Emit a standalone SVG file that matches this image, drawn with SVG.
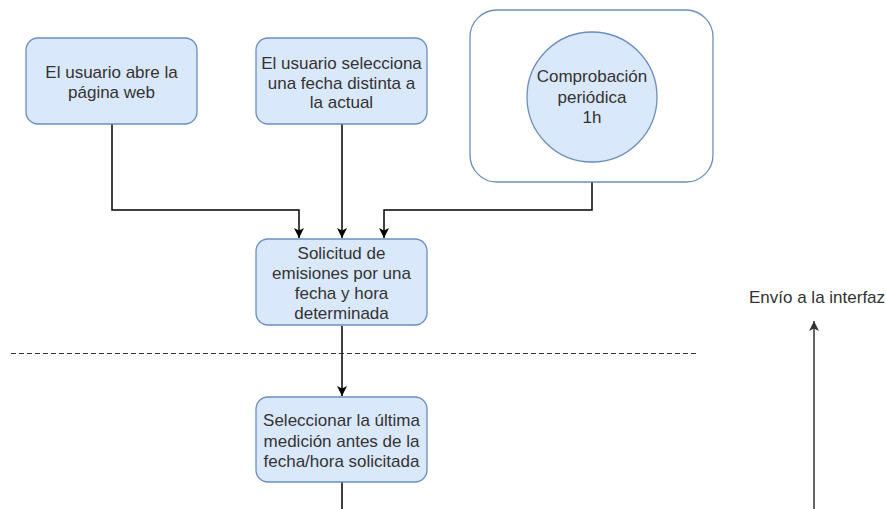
<svg xmlns="http://www.w3.org/2000/svg" width="886" height="509" viewBox="0 0 886 509">
<style>
.box{fill:#dae8fc;stroke:#6c8ebf;stroke-width:1.3}
.cont{fill:#ffffff;stroke:#6c8ebf;stroke-width:1.3}
.t{font-family:"Liberation Sans",Arial,sans-serif;font-size:17px;fill:#333333;text-anchor:middle}
.c{fill:none;stroke:#000000;stroke-width:1.5}
</style>
<defs>
<marker id="ah" viewBox="0 0 10 10" refX="10" refY="5" markerWidth="10" markerHeight="11" markerUnits="userSpaceOnUse" orient="auto">
<path d="M0,0 L10,5 L0,10 L2.5,5 Z" fill="#000000"/>
</marker>
<marker id="ah2" viewBox="0 0 10 10" refX="10" refY="5" markerWidth="10" markerHeight="11" markerUnits="userSpaceOnUse" orient="auto">
<path d="M0,0 L10,5 L0,10 L2.5,5 Z" fill="#333333"/>
</marker>
</defs>
<g id="connectors">
<path class="c" d="M112,124 V210 H299 V238" marker-end="url(#ah)"/>
<path class="c" d="M342,124 V238" marker-end="url(#ah)"/>
<path class="c" d="M592,182 V210 H384 V238" marker-end="url(#ah)"/>
<path class="c" d="M342,326 V396" marker-end="url(#ah)"/>
<path class="c" d="M342,482 V509"/>
<path d="M814,509 V321" fill="none" stroke="#333333" stroke-width="1.5" marker-end="url(#ah2)"/>
</g>
<g id="separator">
<line x1="11" y1="353.5" x2="696" y2="353.5" stroke="#333333" stroke-width="1" stroke-dasharray="5 3"/>
</g>
<g id="n1">
<rect class="box" x="26" y="38" width="171" height="86" rx="12"/>
<text class="t"><tspan x="111.5" y="78">El usuario abre la</tspan><tspan x="111.5" y="98">página web</tspan></text>
</g>
<g id="n2">
<rect class="box" x="256" y="38" width="171" height="86" rx="12"/>
<text class="t"><tspan x="341.5" y="69">El usuario selecciona</tspan><tspan x="341.5" y="88.5">una fecha distinta a</tspan><tspan x="341.5" y="108">la actual</tspan></text>
</g>
<g id="n3">
<rect class="cont" x="470" y="10" width="243" height="172" rx="27"/>
<circle class="box" cx="592" cy="97" r="65"/>
<text class="t"><tspan x="592" y="82">Comprobación</tspan><tspan x="592" y="102.5">periódica</tspan><tspan x="592" y="123">1h</tspan></text>
</g>
<g id="n4">
<rect class="box" x="256" y="239" width="171" height="86" rx="12"/>
<text class="t"><tspan x="341.5" y="258.5">Solicitud de</tspan><tspan x="341.5" y="278.5">emisiones por una</tspan><tspan x="341.5" y="298.5">fecha y hora</tspan><tspan x="341.5" y="318.5">determinada</tspan></text>
</g>
<g id="n5">
<rect class="box" x="256" y="397" width="171" height="85" rx="12"/>
<text class="t"><tspan x="341.5" y="426">Seleccionar la última</tspan><tspan x="341.5" y="446.5">medición antes de la</tspan><tspan x="341.5" y="467">fecha/hora solicitada</tspan></text>
</g>
<g id="n6">
<text class="t" x="749" y="303" style="text-anchor:start">Envío a la interfaz</text>
</g>
</svg>
